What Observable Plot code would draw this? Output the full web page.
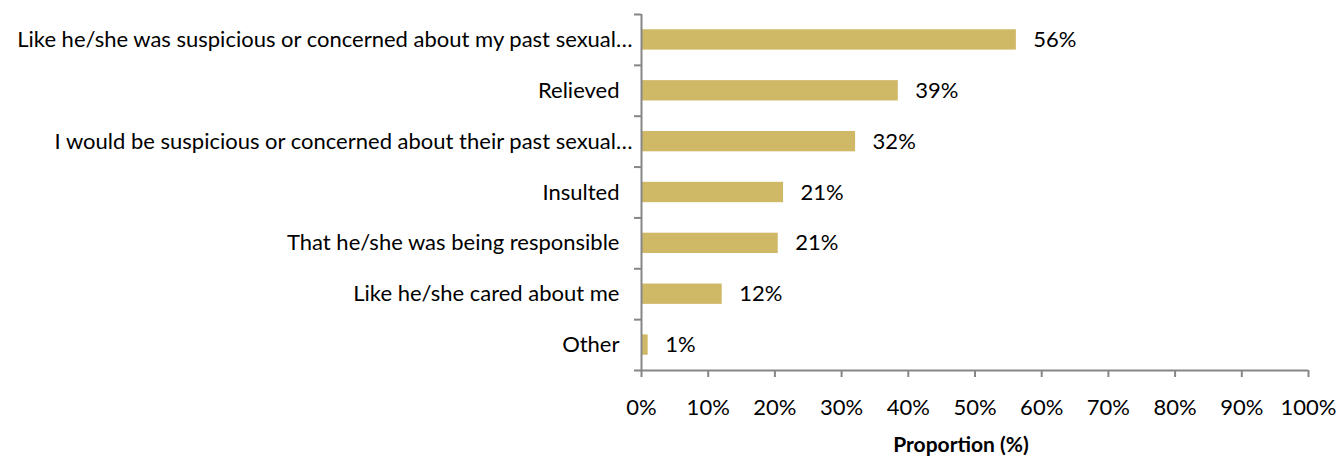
<!DOCTYPE html>
<html>
<head>
<meta charset="utf-8">
<script src="https://cdn.jsdelivr.net/npm/d3@7"></script>
<script src="https://cdn.jsdelivr.net/npm/@observablehq/plot@0.6"></script>
<style>
  html, body { margin: 0; padding: 0; background: #fff; }
  #chart svg { display: block; }
</style>
</head>
<body>
<div id="chart"></div>
<script>
const categories = [
  "Like he/she was suspicious or concerned about my past sexual…",
  "Relieved",
  "I would be suspicious or concerned about their past sexual…",
  "Insulted",
  "That he/she was being responsible",
  "Like he/she cared about me",
  "Other"
];
const values = [56.2, 38.5, 32.1, 21.3, 20.5, 12.1, 1.0];
const valueLabels = ["56%", "39%", "32%", "21%", "21%", "12%", "1%"];
const xTicks = [0, 10, 20, 30, 40, 50, 60, 70, 80, 90, 100];
const xTitle = "Proportion (%)";

const data = categories.map((c, i) => ({ cat: c, i, v: values[i], lab: valueLabels[i] }));
const axisColor = "#868686";
const barColor = "#CFB966";
const font = "Lato, 'Open Sans', sans-serif";
const n = categories.length;
const idx = d3.range(n);
const truncated = idx.filter(i => categories[i].endsWith("…"));
const full = idx.filter(i => !categories[i].endsWith("…"));

const chart = Plot.plot({
  width: 1341,
  height: 457,
  marginLeft: 641,
  marginRight: 33,
  marginTop: 14,
  marginBottom: 87,
  style: { fontFamily: font, fontSize: "22px", color: "#000", background: "#fff" },
  x: { domain: [0, 100] },
  y: { domain: [0, n], reverse: true },
  marks: [
    Plot.rectX(data, { x1: 0, x2: "v", y1: d => d.i + 0.3, y2: d => d.i + 0.7, fill: barColor }),
    Plot.text(data, { x: "v", y: d => d.i + 0.5, text: "lab", textAnchor: "start", dx: 17, fontSize: 22, fill: "#000" }),
    Plot.ruleX([0], { y1: 0, y2: n, stroke: axisColor, strokeWidth: 2 }),
    Plot.ruleY([n], { x1: 0, x2: 100, stroke: axisColor, strokeWidth: 2 }),
    Plot.axisY(d3.range(n + 1), { tickSize: 7, tickFormat: () => "", stroke: axisColor, strokeWidth: 2 }),
    Plot.axisY(full.map(i => i + 0.5), {
      tickSize: 0, tickPadding: 22, tickFormat: t => categories[Math.floor(t)], fontSize: 22, fill: "#000"
    }),
    Plot.axisY(truncated.map(i => i + 0.5), {
      tickSize: 0, tickPadding: 9, tickFormat: t => categories[Math.floor(t)], fontSize: 22, fill: "#000"
    }),
    Plot.axisX(xTicks, {
      tickSize: 7, tickPadding: 22, tickFormat: d => d + "%", stroke: axisColor, strokeWidth: 2,
      fontSize: 22, fill: "#000", label: null
    }),
    Plot.text([xTitle], { frameAnchor: "bottom", dx: -14, dy: 81, text: d => d, fontWeight: "bold", fontSize: 21, fill: "#000" })
  ]
});
document.getElementById("chart").appendChild(chart);
</script>
</body>
</html>
